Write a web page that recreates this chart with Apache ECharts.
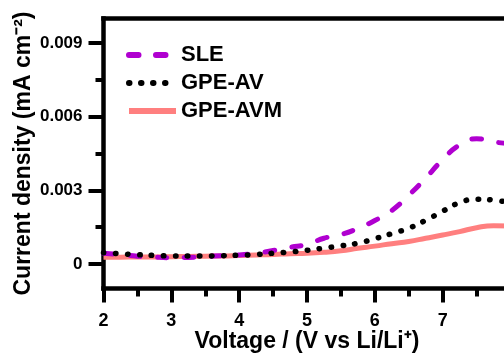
<!DOCTYPE html>
<html>
<head>
<meta charset="utf-8">
<script src="https://cdn.jsdelivr.net/npm/echarts@6/dist/echarts.min.js"></script>
<style>
html,body{margin:0;padding:0;background:#fff;overflow:hidden;width:504px;height:355px;}
#chart{width:530px;height:355px;}
</style>
</head>
<body>
<div id="chart"></div>
<script>
// Voltage (V vs Li/Li+)
var voltage = [2.0, 2.25, 2.5, 2.75, 3.0, 3.25, 3.5, 3.75, 4.0, 4.25, 4.5, 4.75, 5.0, 5.25, 5.5, 5.75, 6.0, 6.25, 6.5, 6.75, 7.0, 7.25, 7.5, 7.75, 8.0];
// Current density (mA cm-2)
var sle    = [0.00044, 0.00038, 0.00032, 0.00028, 0.00026, 0.00027, 0.00031, 0.00034, 0.00037, 0.00044, 0.00055, 0.00068, 0.00080, 0.00105, 0.00120, 0.00145, 0.00177, 0.00218, 0.00280, 0.00350, 0.00425, 0.00485, 0.00510, 0.00497, 0.00490];
var gpeAV  = [0.00046, 0.00042, 0.00038, 0.00035, 0.00033, 0.00033, 0.00033, 0.00034, 0.00036, 0.00039, 0.00044, 0.00049, 0.00056, 0.00065, 0.00074, 0.00085, 0.00103, 0.00124, 0.00146, 0.00178, 0.00215, 0.00250, 0.00264, 0.00260, 0.00250];
var gpeAVM = [0.00028, 0.00028, 0.00029, 0.00029, 0.00030, 0.00031, 0.00032, 0.00033, 0.00035, 0.00037, 0.00039, 0.00042, 0.00044, 0.00048, 0.00054, 0.00064, 0.00073, 0.00083, 0.00092, 0.00105, 0.00118, 0.00132, 0.00148, 0.00156, 0.00155];
var seriesNames = ['SLE', 'GPE-AV', 'GPE-AVM'];
var yMajorTicks = [0, 0.003, 0.006, 0.009];
var yMinorTicks = [0.0015, 0.0045, 0.0075];
var yTickLabels = ['0', '0.003', '0.006', '0.009'];

function pairs(vals){ return voltage.map(function(v,i){ return [v, vals[i]]; }); }

var FONT = 'Liberation Sans, Arial, sans-serif';
var chart = echarts.init(document.getElementById('chart'), null, {renderer:'canvas'});
chart.setOption({
  animation: false,
  backgroundColor: '#fff',
  grid: {left: 103.5, top: 18.4, right: 19.5, bottom: 66.4, containLabel: false, outerBoundsMode: 'none'},
  legend: {
    orient: 'vertical', left: 121, top: 39, itemWidth: 47, itemHeight: 14, itemGap: 6,
    data: seriesNames,
    textStyle: {fontFamily: FONT, fontWeight: 'bold', fontSize: 22, color: '#000'},
    itemStyle: {color: 'rgba(0,0,0,0)', borderColor: 'rgba(0,0,0,0)', borderWidth: 0},
    lineStyle: {width: 6}
  },
  xAxis: [{
    type: 'value', min: 2, max: 8, interval: 1,
    name: 'Voltage / (V vs Li/Li\u207A)', nameLocation: 'middle', nameGap: 42, nameMoveOverlap: false,
    nameTextStyle: {fontFamily: FONT, fontWeight: 'bold', fontSize: 23, color: '#000'},
    axisLine: {show: true, onZero: false, lineStyle: {color: '#000', width: 4.5, cap: 'square'}},
    axisTick: {show: true, inside: false, length: 14, lineStyle: {color: '#000', width: 4}},
    minorTick: {show: true, splitNumber: 2, length: 8, lineStyle: {color: '#000', width: 4}},
    axisLabel: {margin: 23, fontFamily: FONT, fontWeight: 'bold', fontSize: 18, color: '#000'},
    splitLine: {show: false}
  }, {
    type: 'value', min: 2, max: 8, position: 'top',
    axisLine: {show: true, onZero: false, lineStyle: {color: '#000', width: 4.5, cap: 'square'}},
    axisTick: {show: false}, axisLabel: {show: false}, splitLine: {show: false}
  }],
  yAxis: [{
    type: 'value', min: -0.001, max: 0.010,
    name: 'Current density (mA cm\u207B\u00B2)', nameLocation: 'middle', nameGap: 68, nameRotate: 90, nameMoveOverlap: false,
    nameTextStyle: {fontFamily: FONT, fontWeight: 'bold', fontSize: 23, color: '#000'},
    axisLine: {show: true, onZero: false, lineStyle: {color: '#000', width: 4.5, cap: 'square'}},
    axisTick: {show: true, inside: false, length: 15, customValues: yMajorTicks, lineStyle: {color: '#000', width: 4}},
    axisLabel: {margin: 21, customValues: yMajorTicks, fontFamily: FONT, fontWeight: 'bold', fontSize: 17, color: '#000',
      formatter: function(v){ var i = yMajorTicks.indexOf(v); return i >= 0 ? yTickLabels[i] : ''; }},
    splitLine: {show: false}
  }, {
    type: 'value', min: -0.001, max: 0.010, position: 'left',
    axisLine: {show: false},
    axisTick: {show: true, inside: false, length: 8, customValues: yMinorTicks, lineStyle: {color: '#000', width: 4}},
    axisLabel: {show: false}, splitLine: {show: false}
  }],
  series: [{
    name: seriesNames[0], type: 'line', data: pairs(sle), smooth: true, symbol: 'none', z: 3,
    lineStyle: {color: '#B000D0', width: 5, type: [9.5, 17.5], cap: 'round'}, itemStyle: {color: '#B000D0'}
  }, {
    name: seriesNames[1], type: 'line', data: pairs(gpeAV), smooth: true, symbol: 'none', z: 4,
    lineStyle: {color: '#000', width: 5.5, type: [0.5, 11.5], cap: 'round'}, itemStyle: {color: '#000'}
  }, {
    name: seriesNames[2], type: 'line', data: pairs(gpeAVM), smooth: true, symbol: 'none', z: 2,
    lineStyle: {color: '#FF7F7F', width: 5}, itemStyle: {color: '#FF7F7F'}
  }]
});
</script>
</body>
</html>
